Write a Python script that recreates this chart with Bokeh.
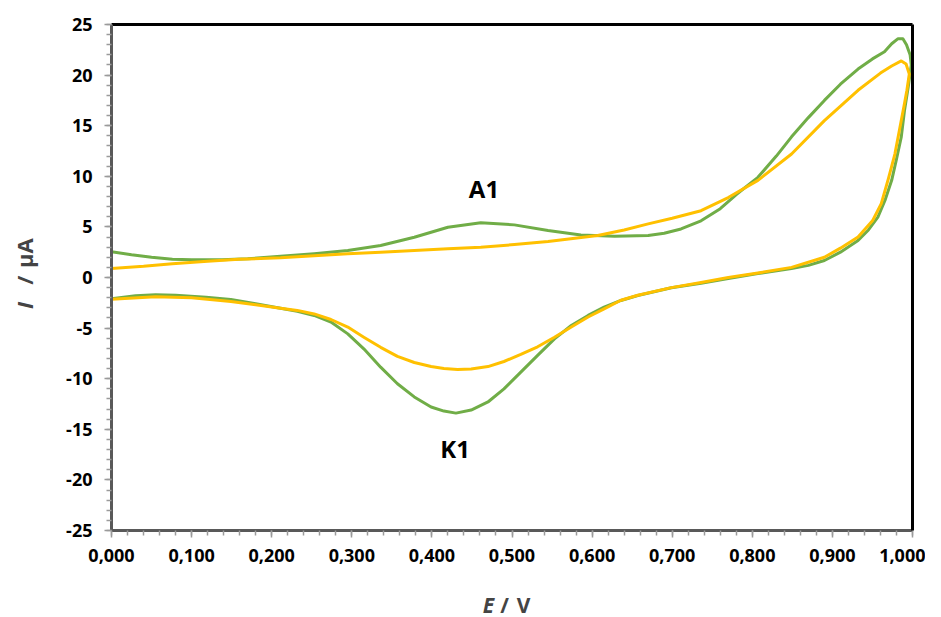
import math
from bokeh.plotting import figure
from bokeh.layouts import column, row
from bokeh.models import (Range1d, SingleIntervalTicker, FixedTicker, LinearAxis,
                          CustomJSTickFormatter, Label)
from bokeh.embed import file_html
from bokeh.resources import INLINE

# ---- data ----
green_E = [0.000, 0.025, 0.050, 0.076, 0.100, 0.138, 0.170, 0.211, 0.253, 0.295, 0.336,
           0.378, 0.420, 0.461, 0.503, 0.545, 0.586, 0.628, 0.670, 0.690, 0.711, 0.736,
           0.760, 0.780, 0.807, 0.830, 0.849, 0.870, 0.890, 0.910, 0.932, 0.950, 0.965,
           0.974, 0.982, 0.988, 0.9925, 0.997, 0.9985,
           0.9946, 0.990, 0.986, 0.980, 0.974, 0.966, 0.957, 0.945, 0.932, 0.910, 0.890,
           0.870, 0.849, 0.807, 0.770, 0.736, 0.699, 0.657, 0.636, 0.615, 0.595, 0.574,
           0.553, 0.532, 0.511, 0.490, 0.470, 0.449, 0.430, 0.415, 0.399, 0.378, 0.357,
           0.336, 0.315, 0.295, 0.274, 0.253, 0.232, 0.211, 0.180, 0.149, 0.118, 0.080,
           0.055, 0.030, 0.000]
green_I = [2.55, 2.25, 2.00, 1.80, 1.75, 1.75, 1.85, 2.10, 2.35, 2.67, 3.16,
           3.98, 4.97, 5.40, 5.20, 4.64, 4.20, 4.08, 4.15, 4.38, 4.80, 5.60,
           6.80, 8.20, 9.90, 12.0, 13.9, 15.8, 17.5, 19.1, 20.6, 21.6, 22.3,
           23.1, 23.6, 23.6, 23.0, 22.0, 21.0,
           18.8, 16.5, 13.9, 11.7, 9.6, 7.7, 6.0, 4.7, 3.66, 2.5, 1.68,
           1.2, 0.89, 0.39, -0.1, -0.56, -1.02, -1.78, -2.27, -2.93, -3.75, -4.74,
           -6.06, -7.7, -9.35, -11.0, -12.3, -13.1, -13.4, -13.2, -12.8, -11.8, -10.5,
           -8.86, -7.05, -5.57, -4.4, -3.75, -3.35, -3.03, -2.6, -2.17, -1.95, -1.75,
           -1.71, -1.8, -2.1]

yellow_E = [0.000, 0.040, 0.076, 0.120, 0.159, 0.211, 0.253, 0.295, 0.336, 0.378, 0.420,
            0.461, 0.503, 0.545, 0.576, 0.607, 0.640, 0.670, 0.700, 0.736, 0.770, 0.807,
            0.849, 0.890, 0.932, 0.960, 0.974, 0.986, 0.992, 0.996,
            0.993, 0.990, 0.984, 0.978, 0.970, 0.961, 0.950, 0.932, 0.910, 0.890, 0.849,
            0.807, 0.770, 0.736, 0.699, 0.657, 0.636, 0.615, 0.595, 0.574, 0.553, 0.532,
            0.511, 0.490, 0.470, 0.449, 0.432, 0.415, 0.399, 0.378, 0.357, 0.336, 0.315,
            0.295, 0.274, 0.253, 0.232, 0.211, 0.180, 0.149, 0.100, 0.055, 0.000]
yellow_I = [0.90, 1.10, 1.35, 1.60, 1.80, 1.95, 2.15, 2.34, 2.50, 2.67, 2.83,
            3.00, 3.25, 3.56, 3.85, 4.15, 4.70, 5.30, 5.85, 6.60, 7.90, 9.60,
            12.2, 15.5, 18.5, 20.2, 20.9, 21.4, 21.1, 20.1,
            18.5, 17.2, 14.7, 12.2, 9.8, 7.3, 5.6, 4.0, 2.9, 2.0, 1.0,
            0.45, 0.0, -0.5, -1.0, -1.75, -2.25, -3.1, -3.9, -4.9, -5.9, -6.85,
            -7.6, -8.3, -8.8, -9.05, -9.1, -9.0, -8.8, -8.4, -7.8, -6.9, -5.9,
            -4.9, -4.15, -3.6, -3.25, -3.03, -2.7, -2.37, -2.0, -1.9, -2.15]

peak_labels = ["A1", "K1"]
peak_E = [0.465, 0.429]
peak_I = [8.8, -16.9]

x_ticks_step = 0.1
y_ticks_step = 5

GREEN = "#70AD47"
YELLOW = "#FFC000"
AXIS_GRAY = "#595959"
TICK_GRAY = "#9a9a9a"
FONT = "Open Sans"

# ---- main plot ----
p = figure(width=877, height=580, output_backend="svg", toolbar_location=None,
           x_range=Range1d(0, 1), y_range=Range1d(-25, 25),
           min_border_left=63, min_border_right=13, min_border_top=24, min_border_bottom=50,
           x_axis_type=None, y_axis_type=None)
p.xgrid.visible = False
p.ygrid.visible = False
p.outline_line_color = None
p.background_fill_color = "white"
p.border_fill_color = "white"

xaxis = LinearAxis(ticker=SingleIntervalTicker(interval=x_ticks_step, num_minor_ticks=5),
                   formatter=CustomJSTickFormatter(code="return tick.toFixed(3).replace('.', ',');"))
yaxis = LinearAxis(ticker=SingleIntervalTicker(interval=y_ticks_step, num_minor_ticks=5),
                   formatter=CustomJSTickFormatter(code="return tick.toFixed(0);"))
for ax in (xaxis, yaxis):
    ax.axis_line_color = AXIS_GRAY
    ax.axis_line_width = 3
    ax.major_tick_line_color = TICK_GRAY
    ax.minor_tick_line_color = TICK_GRAY
    ax.major_tick_line_width = 1.5
    ax.minor_tick_line_width = 1.5
    ax.major_tick_in = 0
    ax.minor_tick_in = 0
    ax.major_tick_out = 7
    ax.minor_tick_out = 5
    ax.major_label_text_font = FONT
    ax.major_label_text_font_style = "bold"
    ax.major_label_text_font_size = "18px"
    ax.major_label_text_color = "black"
xaxis.major_label_standoff = 11
yaxis.major_label_standoff = 12
p.add_layout(xaxis, "below")
p.add_layout(yaxis, "left")

for loc in ("above", "right"):
    b = LinearAxis(ticker=FixedTicker(ticks=[]), axis_line_color="black", axis_line_width=3,
                   major_tick_line_color=None, minor_tick_line_color=None,
                   major_label_text_font_size="0px")
    p.add_layout(b, loc)

p.line(green_E, green_I, line_color=GREEN, line_width=3, line_join="round")
p.line(yellow_E, yellow_I, line_color=YELLOW, line_width=3, line_join="round")

for t, ex, iy in zip(peak_labels, peak_E, peak_I):
    p.add_layout(Label(x=ex, y=iy, text=t, text_font=FONT, text_font_style="bold",
                       text_font_size="24px", text_align="center", text_baseline="middle",
                       text_color="black"))


def blank_fig(w, h):
    f = figure(width=w, height=h, output_backend="svg", toolbar_location=None,
               x_range=Range1d(0, w), y_range=Range1d(0, h), min_border=0,
               x_axis_location=None, y_axis_location=None)
    f.xgrid.visible = False
    f.ygrid.visible = False
    f.outline_line_color = None
    f.border_fill_color = "white"
    return f


# ---- y axis title: I / µA ----
yfig = blank_fig(48, 580)
ang = math.pi / 2
yfig.add_layout(Label(x=23, y=254, text="I", angle=ang, text_font=FONT,
                      text_font_style="bold italic", text_font_size="22px",
                      text_align="left", text_baseline="middle"))
yfig.add_layout(Label(x=23, y=287, text="/", angle=ang, text_font=FONT,
                      text_font_style="bold", text_font_size="22px",
                      text_align="center", text_baseline="middle"))
yfig.add_layout(Label(x=23, y=335, text="µA", angle=ang, text_font=FONT,
                      text_font_style="bold", text_font_size="22px",
                      text_align="right", text_baseline="middle"))

# ---- x axis title: E / V ----
xfig = blank_fig(925, 37)
xfig.add_layout(Label(x=488, y=13, text="E", text_font=FONT, text_font_style="bold italic",
                      text_font_size="21px", text_align="center", text_baseline="middle"))
xfig.add_layout(Label(x=504, y=13, text="/", text_font=FONT, text_font_style="bold",
                      text_font_size="21px", text_align="center", text_baseline="middle"))
xfig.add_layout(Label(x=523, y=13, text="V", text_font=FONT, text_font_style="bold",
                      text_font_size="21px", text_align="center", text_baseline="middle"))

layout = column(row(yfig, p, spacing=0), xfig, spacing=0)
open("out.html", "w").write(file_html(layout, INLINE))
